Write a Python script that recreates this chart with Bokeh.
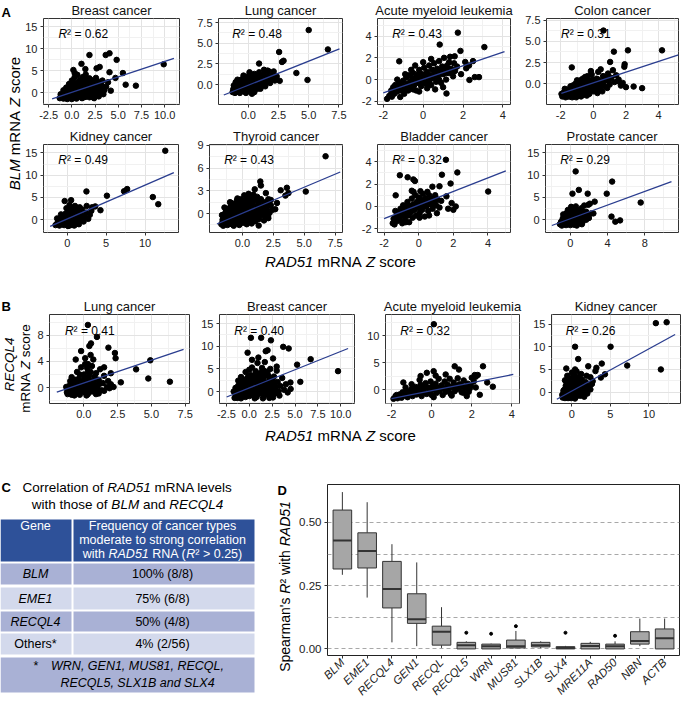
import math
from bokeh.plotting import figure
from bokeh.models import Range1d, FixedTicker
from bokeh.layouts import row, column
from bokeh.embed import file_html
from bokeh.resources import INLINE
from bokeh.core.properties import value

# ======================= DATA =======================
# ---- Panel A: BLM vs RAD51 ----
a_titles = ["Breast cancer", "Lung cancer", "Acute myeloid leukemia", "Colon cancer",
            "Kidney cancer", "Thyroid cancer", "Bladder cancer", "Prostate cancer"]
a_r2 = ["0.62", "0.48", "0.43", "0.31", "0.49", "0.43", "0.32", "0.29"]

a_breast = [(1.9, 8.6), (3.65, 8.6), (4.06, 9.0), (4.83, 7.5), (1.04, 6.6), (9.9, 6.5), (5.8, 1.86), (6.9, 1.64),
            (5.5, 4.5), (2.67, 5.57), (3.0, 5.9), (0.17, 5.2), (0.31, 4.5), (1.46, 5.4), (4.06, 4.7), (4.7, 3.4),
            (-1.3, -1.2), (-1.1, -0.8), (-1.2, -0.3), (-0.9, -1.3), (-0.8, -0.6), (-0.7, 0.1), (-0.6, -1.1), (-0.5, -0.4),
            (-0.4, 0.5), (-0.3, -1.2), (-0.2, -0.2), (-0.1, 0.9), (0.0, -0.9), (0.1, 0.2), (0.2, 1.4), (0.3, -1.1),
            (0.4, -0.3), (0.5, 0.7), (0.6, 1.9), (0.7, -0.8), (0.8, 0.1), (0.9, 1.1), (1.0, 2.3), (1.1, -0.6),
            (1.2, 0.4), (1.3, 1.5), (1.4, 2.8), (1.5, -0.9), (1.6, 0.0), (1.7, 0.9), (1.8, 2.0), (1.9, 3.3),
            (2.0, -0.4), (2.1, 0.6), (2.2, 1.5), (2.3, 2.6), (2.5, -0.7), (2.6, 0.3), (2.7, 1.2), (2.8, 2.2),
            (3.0, 0.0), (3.1, 0.9), (3.2, 1.8), (3.4, -0.3), (3.5, 0.6), (3.7, 1.4), (3.9, 2.4), (-0.6, 1.2),
            (-0.3, 2.0), (0.0, 2.8), (0.3, 3.5), (0.6, 4.1), (0.9, 3.0), (1.2, 3.6), (1.5, 4.2), (0.4, 2.3),
            (-0.9, 0.6), (1.1, -1.2), (1.9, -1.0), (2.4, -1.2), (0.0, -1.4), (-0.5, -1.4), (2.9, -0.8), (3.3, 2.8),
            (2.6, 3.4), (4.2, 0.5), (0.2, 0.4), (0.7, 0.6), (1.2, 1.0), (-0.2, 1.6), (0.5, -1.3)]
a_breast_core = [(-1.2, -0.9), (-1.0, -0.4), (-0.9, 0.0), (-0.7, -0.4), (-0.6, -0.1), (-0.4, -0.8), (-0.35, 0.1),
                 (-0.2, -0.6), (-0.1, 0.4), (0.0, -0.4), (0.1, 0.8), (0.15, -0.3), (0.25, 0.0), (0.35, -0.7), (0.45, 0.3),
                 (0.55, -0.4), (0.65, 1.2), (0.75, 0.1), (0.85, -0.4), (0.95, 0.6), (1.05, 0.0), (1.15, 1.3), (1.25, -0.3),
                 (1.35, 0.6), (1.45, 1.8), (1.55, 0.3), (1.65, -0.5), (1.75, 1.3), (1.85, 0.4), (1.95, -0.2), (2.05, 1.0),
                 (2.15, 2.0), (2.25, 0.0), (2.35, 1.1), (2.45, 0.4), (2.55, 1.9), (2.7, 0.7), (2.9, 1.6), (3.0, 2.5),
                 (-0.5, 0.9), (-0.2, 1.3), (0.3, 1.9), (0.8, 2.6), (1.3, 2.3), (1.6, 3.0), (2.1, 2.9), (-0.8, -1.0),
                 (0.6, -1.0), (1.3, -1.0), (2.1, -0.9)]
a_lung = [(5.0, 6.6), (6.59, 4.26), (2.55, 3.95), (2.79, 2.74), (2.92, 2.89), (3.98, 1.41), (4.9, 0.57), (2.6, 0.46),
          (0.89, 2.55), (1.6, 1.7), (2.1, 1.6), (1.3, 1.8), (2.35, 1.0),
          (-1.3, -0.9), (-1.2, -0.4), (-1.1, -1.0), (-1.0, -0.2), (-0.9, -0.7), (-0.8, 0.3), (-0.7, -1.0), (-0.6, -0.4),
          (-0.5, 0.2), (-0.4, 0.8), (-0.3, -0.8), (-0.2, -0.2), (-0.1, 0.4), (0.0, 1.0), (0.1, -0.6), (0.2, 0.0),
          (0.3, 0.6), (0.4, 1.2), (0.5, -0.9), (0.6, -0.3), (0.7, 0.3), (0.8, 0.9), (0.9, 1.5), (1.0, -0.5),
          (1.1, 0.1), (1.2, 0.7), (1.3, 1.2), (1.4, -0.2), (1.5, 0.4), (1.6, 1.0), (1.8, 0.2), (1.9, 0.8),
          (2.0, 1.3), (2.2, 0.5), (-0.9, 0.6), (-0.4, 1.1), (0.1, 1.5), (-1.0, -0.6), (-0.5, -0.6), (0.0, -0.3),
          (0.4, 0.2), (0.8, -0.1), (1.2, 0.3), (-0.7, -0.2), (0.2, 0.6), (0.6, 0.9), (-0.2, -1.0), (0.3, -1.1),
          (-1.2, -0.1), (1.7, 1.6)]
a_lung_core = [(-1.25, -0.6), (-1.15, -0.2), (-1.05, -0.8), (-0.95, 0.0), (-0.85, -0.4), (-0.75, 0.5), (-0.65, -0.7),
               (-0.55, -0.1), (-0.45, 0.4), (-0.35, -0.5), (-0.25, 0.1), (-0.15, 0.7), (-0.05, -0.8), (0.05, 0.1),
               (0.15, 0.4), (0.25, -0.4), (0.35, 0.9), (0.45, -0.7), (0.55, 0.0), (0.65, 0.5), (0.75, -0.5), (0.85, 0.2),
               (0.95, 0.6), (1.05, -0.1), (1.15, 0.4), (1.25, 0.9), (1.35, 0.1), (1.45, 0.7), (-0.6, 0.6), (0.1, 1.2),
               (0.5, 1.3), (1.0, 1.1), (-1.05, 0.3), (0.3, -0.7)]
a_aml = [(1.74, 4.32), (3.07, 2.99), (0.83, 3.22), (-1.2, 1.68), (1.87, 2.64), (1.58, 2.14), (2.11, 1.62), (2.32, -0.03),
         (2.59, 0.23), (2.8, 0.23), (2.16, 1.04), (1.17, -1.28), (-1.81, -1.77), (-1.57, -1.57), (2.5, 1.7), (2.3, 1.3),
         (1.3, 1.6),
         (-1.7, -1.5), (-1.6, -1.0), (-1.5, -0.7), (-1.45, -1.3), (-1.4, -0.5), (-1.3, -1.1), (-1.25, -0.8), (-1.2, -0.3),
         (-1.1, -1.0), (-1.05, -0.6), (-1.0, -0.1), (-0.95, -1.3), (-0.9, -0.7), (-0.85, 0.2), (-0.8, -0.4), (-0.75, -1.0),
         (-0.7, 0.4), (-0.65, -0.2), (-0.6, -0.7), (-0.55, 0.1), (-0.5, 0.6), (-0.45, -0.5), (-0.4, 0.0), (-0.35, -1.0),
         (-0.3, 0.4), (-0.25, -0.3), (-0.2, 0.9), (-0.15, 0.2), (-0.1, -0.6), (-0.05, 0.5), (0.0, -0.2), (0.05, 1.1),
         (0.1, 0.3), (0.15, -0.4), (0.2, 0.7), (0.25, 0.0), (0.3, 1.3), (0.35, 0.4), (0.4, -0.5), (0.45, 0.9),
         (0.5, 0.2), (0.55, 1.5), (0.6, 0.6), (0.65, -0.2), (0.7, 1.0), (0.75, 0.3), (0.8, 1.7), (0.85, 0.7),
         (0.9, -0.3), (0.95, 1.2), (1.0, 0.5), (1.05, 2.0), (1.1, 0.9), (1.15, 0.0), (1.2, 1.3), (1.3, 0.6),
         (1.35, 2.1), (1.4, 1.0), (1.5, 0.3), (1.55, 1.5), (1.6, 0.8), (1.7, 1.2), (-1.3, 0.0), (-0.6, 0.9),
         (0.0, 1.6), (0.4, 1.9), (-0.2, -1.1), (0.6, -0.9), (0.2, -0.8), (-0.9, 0.5), (-1.15, -1.6), (1.9, 0.5),
         (1.0, -0.7), (-0.4, 1.3)]
a_aml_core = [(-1.6, -1.3), (-1.35, -0.9), (-1.1, -0.4), (-0.85, -0.9), (-0.6, -0.3), (-0.35, 0.2), (-0.1, 0.0),
              (0.15, 0.5), (0.4, 0.1), (0.65, 0.5), (0.9, 0.8), (1.15, 0.6), (1.45, 0.6), (-0.5, -0.9), (0.3, -0.2),
              (0.8, 0.0), (1.25, 1.0), (-0.2, 0.6)]
a_colon = [(0.62, 6.28), (4.21, 3.94), (2.12, 3.94), (1.26, 3.79), (-1.32, 1.93), (1.03, 2.57), (1.92, 2.3), (1.9, 2.0),
           (2.47, -0.33), (2.99, -0.52), (1.69, -0.22), (2.0, -0.4), (1.5, 0.3), (1.8, 0.1),
           (-1.9, -1.5), (-1.8, -1.0), (-1.7, -1.6), (-1.6, -0.7), (-1.5, -1.2), (-1.4, -0.3), (-1.3, -1.6), (-1.2, -0.9),
           (-1.1, 0.0), (-1.0, -1.3), (-0.9, -0.5), (-0.8, 0.4), (-0.7, -1.0), (-0.6, -0.1), (-0.5, 0.8), (-0.4, -1.4),
           (-0.3, -0.6), (-0.2, 0.3), (-0.1, 1.1), (0.0, -0.9), (0.1, -0.1), (0.2, 0.6), (0.3, 1.4), (0.4, -0.6),
           (0.5, 0.2), (0.6, 0.9), (0.7, -0.3), (0.8, 0.5), (0.9, 1.2), (1.0, -0.1), (1.1, 0.7), (1.2, 1.6),
           (1.3, 0.2), (1.4, 1.0), (-1.75, -0.6), (-1.45, -0.8), (-1.15, -0.4), (-0.85, -1.1), (-0.55, -0.7), (-0.25, -1.2),
           (0.05, -0.5), (0.35, 0.1), (0.65, 0.4), (-0.95, 0.3), (-0.65, 0.6), (-0.35, 0.9), (-0.05, 0.5), (0.25, -1.1),
           (0.55, -0.9), (-1.55, -1.5), (-1.25, -0.2), (-0.75, -1.5), (0.85, -0.5), (1.55, 0.5), (-0.15, 1.5), (0.45, 1.7),
           (-1.95, -1.2), (-1.05, -1.6)]
a_colon_core = [(-1.85, -1.3), (-1.65, -1.2), (-1.55, -0.9), (-1.35, -1.0), (-1.25, -1.3), (-1.15, -0.8), (-1.05, -0.3),
                (-0.95, -0.9), (-0.85, -0.2), (-0.75, -0.6), (-0.65, 0.2), (-0.55, -0.3), (-0.45, -0.9), (-0.35, 0.3),
                (-0.25, -0.3), (-0.15, -0.8), (-0.05, 0.1), (0.15, -0.5), (0.3, 0.5), (0.45, -0.2), (0.6, 0.1), (0.75, 0.8),
                (-1.45, -1.5), (-0.6, -1.3), (0.2, 0.2), (-0.4, 0.5), (-1.0, 0.4), (0.95, 0.3)]
a_kidney = [(12.6, 15.5), (11.0, 5.1), (11.7, 3.5), (7.3, 6.4), (7.7, 6.9), (5.1, 5.4), (2.47, 6.36), (4.27, 2.14),
            (-0.33, 4.2), (0.5, 4.4), (3.6, 3.0), (3.2, 2.8), (2.5, 3.1), (1.6, 2.8),
            (-1.5, -1.2), (-1.2, -0.5), (-1.0, -1.3), (-0.9, 0.2), (-0.7, -0.8), (-0.6, 0.8), (-0.4, -1.2), (-0.3, -0.2),
            (-0.2, 1.4), (0.0, -0.8), (0.1, 0.4), (0.2, 2.0), (0.3, -1.3), (0.4, -0.3), (0.5, 0.9), (0.6, 2.5),
            (0.7, -0.9), (0.8, 0.2), (0.9, 1.4), (1.0, 3.1), (1.1, -0.5), (1.2, 0.7), (1.3, 2.0), (1.5, -1.0),
            (1.6, 0.1), (1.7, 1.1), (1.9, 2.3), (2.1, -0.4), (2.2, 0.6), (2.4, 1.6), (2.7, 0.2), (2.9, 1.1),
            (3.1, 2.0), (-1.3, 0.3), (-0.8, 1.2), (-0.1, 2.6), (0.3, 3.3), (0.1, -1.4), (0.7, 1.0), (0.3, 0.0),
            (-0.5, 0.1), (1.4, -0.2), (0.9, -1.3)]
a_kidney_core = [(-1.3, -0.9), (-1.1, -0.2), (-0.95, -0.7), (-0.8, -0.3), (-0.6, -0.4), (-0.5, -1.0), (-0.4, 0.4),
                 (-0.2, -0.6), (-0.15, 0.7), (0.0, 0.1), (0.05, -0.3), (0.2, 0.9), (0.25, -0.7), (0.4, 0.5), (0.5, -0.5),
                 (0.6, 0.2), (0.75, 1.6), (0.8, -0.4), (1.0, 0.6), (1.05, 1.9), (1.2, -0.2), (1.35, 1.2), (1.5, 0.5),
                 (-0.3, 1.0), (0.35, 1.5), (0.55, -1.1), (-0.7, 0.4)]
a_thyroid = [(6.73, 7.55), (5.13, 2.9), (1.45, 4.23), (3.6, 3.4), (3.73, 2.7), (3.48, 2.37), (2.66, 0.58), (1.32, -1.58),
             (2.08, -0.33), (3.1, 3.07), (1.5, 3.7), (1.0, 3.2), (2.3, 1.8), (2.8, 1.4), (1.9, 2.7), (2.1, -0.6),
             (-1.7, -1.4), (-1.6, -0.8), (-1.55, -1.6), (-1.5, -0.3), (-1.4, -1.1), (-1.35, 0.2), (-1.3, -0.6), (-1.2, -1.5),
             (-1.15, 0.6), (-1.1, -0.1), (-1.0, -0.9), (-0.95, 1.0), (-0.9, 0.3), (-0.85, -1.4), (-0.8, -0.4), (-0.7, 0.7),
             (-0.65, -1.0), (-0.6, 1.3), (-0.55, 0.0), (-0.5, -0.7), (-0.45, 1.7), (-0.4, 0.5), (-0.35, -1.3), (-0.3, -0.2),
             (-0.25, 1.0), (-0.2, -0.9), (-0.15, 1.9), (-0.1, 0.3), (-0.05, -0.5), (0.0, 1.3), (0.05, -1.2), (0.1, 0.7),
             (0.15, -0.1), (0.2, 1.6), (0.25, -0.8), (0.3, 0.4), (0.35, 2.0), (0.4, -0.4), (0.45, 1.0), (0.5, -1.1),
             (0.55, 0.1), (0.6, 1.5), (0.65, -0.6), (0.7, 0.7), (0.75, 2.1), (0.8, -0.2), (0.85, 1.2), (0.9, -0.9),
             (0.95, 0.4), (1.0, 1.8), (1.1, -0.4), (1.15, 0.9), (1.2, 2.2), (1.25, 0.1), (1.3, 1.4), (1.35, -0.7),
             (1.4, 0.6), (1.5, 1.9), (1.55, -0.2), (1.6, 1.0), (1.7, 0.3), (1.8, 1.5), (1.9, -0.4), (2.0, 0.7),
             (2.1, 1.9), (2.2, 0.1), (2.3, 1.1), (2.45, 0.5), (-1.45, 0.8), (-1.0, 1.5), (-0.7, -1.6), (-0.3, 0.8),
             (0.15, 2.4), (0.5, 2.6), (0.9, 2.5), (-1.25, -0.9), (-0.75, 0.1), (-0.25, -1.5), (0.35, -1.4), (0.75, -1.3),
             (1.05, -1.0), (-0.55, 0.6), (-0.05, 0.0), (0.45, 0.5), (0.95, -0.1), (1.45, 0.2), (-1.65, -0.2), (1.75, -0.9),
             (0.25, 1.2), (-0.45, -0.3)]
a_thyroid_core = [(-1.6, -1.1), (-1.5, -0.6), (-1.4, 0.0), (-1.3, -1.3), (-1.2, 0.3), (-1.1, -0.7), (-1.0, 0.2),
                  (-0.9, -0.4), (-0.8, 0.9), (-0.7, -0.2), (-0.6, -0.9), (-0.5, 0.3), (-0.4, -0.6), (-0.3, 1.2),
                  (-0.2, 0.0), (-0.1, -1.1), (0.0, 0.5), (0.1, -0.4), (0.2, 0.9), (0.3, -1.0), (0.4, 0.2), (0.5, 1.2),
                  (0.6, -0.2), (0.7, 0.3), (0.8, 1.0), (0.9, 0.0), (1.0, 0.9), (1.1, 0.3), (1.2, -0.3), (1.3, 0.8),
                  (1.4, 1.2), (1.5, 0.5), (1.7, 0.9), (1.9, 0.2), (2.0, 1.3), (-0.9, 1.4), (-0.4, 2.0), (0.3, 1.9),
                  (1.1, 2.0), (-1.2, -0.3)]
a_bladder = [(1.57, 4.16), (2.23, 3.03), (1.34, 2.83), (1.84, 2.04), (4.01, 1.33), (-1.09, 2.78), (-0.64, 2.6), (-0.31, 2.41),
             (-0.22, 2.27), (-1.33, 0.99), (0.79, 1.76), (2.14, 0.0), (0.1, 1.36), (-0.4, 1.4), (-0.3, 1.3), (1.2, 1.8),
             (1.6, 0.9), (1.9, 0.3), (0.5, 1.3), (2.0, -0.3), (1.7, -0.2),
             (-1.5, -1.5), (-1.45, -1.1), (-1.4, -1.6), (-1.3, -0.9), (-1.25, -1.3), (-1.2, -0.5), (-1.1, -1.2), (-1.05, -0.2),
             (-1.0, -0.8), (-0.95, -1.5), (-0.9, 0.1), (-0.85, -0.5), (-0.8, -1.1), (-0.7, -0.2), (-0.65, 0.4), (-0.6, -0.8),
             (-0.55, -1.4), (-0.5, 0.0), (-0.45, -0.5), (-0.4, 0.7), (-0.35, -1.0), (-0.3, 0.2), (-0.25, -0.3), (-0.2, 1.0),
             (-0.15, -0.8), (-0.1, 0.4), (-0.05, -0.1), (0.0, 0.8), (0.05, -0.6), (0.1, 0.1), (0.15, 0.6), (0.2, -0.3),
             (0.25, 1.1), (0.3, 0.3), (0.35, -0.9), (0.4, 0.7), (0.45, 0.0), (0.5, 0.5), (0.55, -0.4), (0.6, 1.0),
             (0.7, 0.2), (0.75, 0.7), (0.8, -0.2), (0.9, 0.4), (0.95, 1.0), (1.0, 0.1), (1.1, 0.6), (1.2, -0.1),
             (1.3, 0.5), (-0.75, -1.4), (0.05, -1.0), (-1.35, -0.4), (0.6, -0.8), (1.05, -0.6)]
a_bladder_core = [(-1.35, -1.2), (-1.15, -0.8), (-0.9, -0.4), (-0.75, -0.8), (-0.5, -0.5), (-0.3, -0.3), (-0.1, 0.0),
                  (0.1, -0.3), (0.3, 0.0), (0.5, 0.2), (0.7, 0.5), (0.85, 0.1), (1.0, 0.7), (-0.6, 0.1), (0.2, 0.4)]
a_prostate = [(0.58, 10.86), (4.49, 8.57), (7.55, 3.86), (3.91, 5.86), (0.92, 6.7), (0.24, 5.86), (1.87, 5.86), (2.62, 4.07),
              (2.48, 1.43), (4.42, 0.71), (4.83, -0.43), (5.34, -0.14), (1.94, 3.36), (1.5, 3.2), (0.6, 3.0), (2.1, 3.6),
              (0.1, 2.9), (1.2, 2.6), (1.7, 1.8),
              (-1.1, -1.0), (-0.95, -0.4), (-0.9, -1.3), (-0.8, 0.3), (-0.7, -0.8), (-0.6, 0.9), (-0.5, -0.2), (-0.45, -1.2),
              (-0.4, 1.5), (-0.3, 0.4), (-0.2, -0.7), (-0.1, 1.0), (0.0, -1.2), (0.05, 0.0), (0.1, 2.0), (0.2, -0.5),
              (0.25, 0.7), (0.3, 1.6), (0.4, -1.1), (0.45, 0.2), (0.5, 1.2), (0.6, -0.4), (0.65, 0.8), (0.7, 2.2),
              (0.8, -0.9), (0.85, 0.3), (0.9, 1.5), (1.0, -0.3), (1.1, 0.8), (1.2, 1.9), (1.3, -0.6), (1.4, 0.4),
              (1.5, 1.2), (1.7, 0.0), (1.8, 0.9), (2.0, 0.4), (2.2, 1.4), (-0.75, 1.2), (-0.25, 2.2), (0.4, 2.6),
              (-0.6, -0.5), (0.15, -0.9), (0.7, -1.3), (1.25, -1.0)]
a_prostate_core = [(-1.0, -0.6), (-0.85, -0.9), (-0.75, -0.2), (-0.65, 0.4), (-0.55, -1.0), (-0.45, 0.2), (-0.35, -0.5),
                   (-0.25, 0.8), (-0.15, -0.3), (-0.05, -0.8), (0.0, 0.4), (0.1, -0.3), (0.15, 1.1), (0.3, -0.7),
                   (0.35, 0.1), (0.5, -0.1), (0.55, 0.6), (0.7, -0.6), (0.75, 0.2), (0.9, -0.2), (0.95, 0.9), (1.05, 0.2),
                   (1.2, 0.5), (1.35, 0.9), (-0.35, 1.3), (0.3, 1.0), (1.6, 0.6), (-0.1, 0.1)]
a_points = [a_breast + a_breast_core, a_lung + a_lung_core, a_aml + a_aml_core, a_colon + a_colon_core,
            a_kidney + a_kidney_core, a_thyroid + a_thyroid_core, a_bladder + a_bladder_core, a_prostate + a_prostate_core]
a_lines = [[(-2.12, -1.36), (11.0, 7.86)], [(-2.03, -1.25), (7.55, 4.33)], [(-2.0, -1.22), (4.08, 2.58)],
           [(-1.96, -1.15), (5.22, 3.42)], [(-2.2, -1.5), (13.7, 10.6)], [(-2.06, -1.37), (7.92, 5.48)],
           [(-2.0, -1.08), (5.03, 3.17)], [(-1.97, -1.29), (10.85, 8.57)]]
a_xranges = [(-3.05, 11.6), (-2.47, 7.8), (-2.29, 4.38), (-2.87, 5.22), (-3.05, 14.3), (-2.66, 8.1), (-2.38, 5.3), (-2.65, 11.6)]
a_yranges = [(-2.64, 16.9), (-2.4, 8.0), (-2.29, 5.62), (-2.45, 7.7), (-2.86, 16.9), (-2.49, 9.1), (-2.32, 5.52), (-2.86, 16.9)]
a_xticks = [[-2.5, 0, 2.5, 5, 7.5, 10], [0, 2.5, 5, 7.5], [-2, 0, 2, 4], [-2, 0, 2, 4],
            [0, 5, 10], [0, 2.5, 5, 7.5], [-2, 0, 2, 4], [0, 4, 8]]
a_xlabels = [["-2.5", "0.0", "2.5", "5.0", "7.5", "10.0"], ["0.0", "2.5", "5.0", "7.5"], ["-2", "0", "2", "4"], ["-2", "0", "2", "4"],
             ["0", "5", "10"], ["0.0", "2.5", "5.0", "7.5"], ["-2", "0", "2", "4"], ["0", "4", "8"]]
a_yticks = [[0, 5, 10, 15], [0, 2.5, 5, 7.5], [-2, 0, 2, 4], [0, 2.5, 5, 7.5],
            [0, 5, 10, 15], [0, 3, 6, 9], [-2, 0, 2, 4], [0, 5, 10, 15]]
a_ylabels = [["0", "5", "10", "15"], ["0.0", "2.5", "5.0", "7.5"], ["-2", "0", "2", "4"], ["0.0", "2.5", "5.0", "7.5"],
             ["0", "5", "10", "15"], ["0", "3", "6", "9"], ["-2", "0", "2", "4"], ["0", "5", "10", "15"]]

# ---- Panel B: RECQL4 vs RAD51 ----
b_titles = ["Lung cancer", "Breast cancer", "Acute myeloid leukemia", "Kidney cancer"]
b_r2 = ["0.41", "0.40", "0.32", "0.26"]
b_lung = [(0.3, 9.6), (0.97, 7.76), (0.53, 6.77), (0.41, 6.37), (1.82, 6.12), (2.35, 4.5), (2.3, 5.3), (3.87, 2.79),
          (4.92, 4.18), (4.77, 1.39), (6.37, 0.9), (2.74, 0.8), (-0.2, 5.6), (0.5, 5.0), (0.1, 4.5), (0.7, 4.3),
          (1.5, 3.1), (2.0, 2.2), (2.2, 0.1), (1.9, -0.1), (1.5, -0.5), (-0.6, 4.3), (0.3, 3.6),
          (-1.2, -1.0), (-1.1, -0.3), (-1.0, 0.5), (-0.9, -1.1), (-0.8, -0.2), (-0.7, 0.8), (-0.6, -0.8), (-0.5, 0.2),
          (-0.4, 1.3), (-0.3, -1.1), (-0.2, -0.1), (-0.1, 0.9), (0.0, 2.0), (0.05, -0.7), (0.1, 0.4), (0.2, 1.5),
          (0.25, 3.0), (0.3, -1.0), (0.4, 0.0), (0.45, 1.0), (0.5, 2.4), (0.6, -0.6), (0.7, 0.6), (0.8, 1.7),
          (0.9, -1.0), (1.0, 0.2), (1.1, 1.2), (1.2, 2.8), (1.3, -0.4), (1.4, 0.7), (1.5, 1.8), (1.7, 0.1),
          (1.8, 1.0), (2.0, 0.5), (-0.9, 1.6), (-0.5, 2.4), (0.1, 3.6), (0.6, 3.3), (-0.7, -1.2), (0.2, -1.2),
          (1.1, -0.9), (-1.3, 0.1), (0.9, 2.2), (-0.2, 3.1)]
b_lung_core = [(-1.25, -0.7), (-1.15, 0.1), (-1.05, -0.5), (-0.95, 0.2), (-0.85, -0.7), (-0.75, 0.4), (-0.65, -0.3),
               (-0.55, 0.7), (-0.45, -0.6), (-0.35, 0.4), (-0.25, -0.5), (-0.15, 0.4), (-0.05, -0.3), (0.05, 0.9),
               (0.15, -0.2), (0.25, 0.6), (0.35, -0.6), (0.45, 0.5), (0.55, -0.2), (0.65, 1.0), (0.75, -0.2),
               (0.85, 0.4), (0.95, 1.2), (1.05, -0.4), (1.2, 0.6), (-0.6, 1.2), (0.0, 1.4), (0.4, 1.8), (-0.3, 2.0),
               (0.3, 2.5), (-1.0, 1.0)]
b_breast = [(0.18, 11.86), (1.3, 11.86), (2.37, 11.3), (3.71, 9.86), (4.31, 9.5), (1.8, 8.9), (2.0, 9.1), (-0.18, 8.57),
            (5.23, 5.93), (6.71, 7.14), (5.58, 2.14), (9.7, 4.5), (4.52, 0.57), (1.0, 7.5), (2.6, 7.3), (0.3, 7.0),
            (-1.6, -1.4), (-1.5, -0.6), (-1.4, 0.4), (-1.3, -1.2), (-1.2, 1.3), (-1.1, -0.2), (-1.0, 0.8), (-0.9, -1.5),
            (-0.8, 2.0), (-0.7, -0.5), (-0.6, 0.5), (-0.5, 1.6), (-0.4, -1.2), (-0.3, 2.8), (-0.2, 0.0), (-0.1, 1.1),
            (0.0, -1.0), (0.1, 2.2), (0.2, 3.6), (0.3, 0.3), (0.4, -0.7), (0.5, 1.4), (0.6, 2.9), (0.7, 4.5),
            (0.8, -1.2), (0.9, 0.5), (1.0, 1.8), (1.1, 3.4), (1.2, -0.4), (1.3, 0.9), (1.4, 5.2), (1.5, 2.4),
            (1.6, -1.0), (1.7, 0.2), (1.8, 1.4), (1.9, 3.9), (2.0, -0.5), (2.1, 0.8), (2.2, 2.6), (2.3, 5.0),
            (2.4, -0.9), (2.5, 1.6), (2.6, 0.2), (2.7, 3.3), (2.8, -0.4), (2.9, 1.0), (3.1, 2.1), (3.2, 0.0),
            (3.4, 1.2), (3.6, 3.0), (3.8, 0.4), (4.0, 1.6), (-0.9, 3.2), (-0.4, 4.3), (0.3, 5.3), (0.9, 6.3),
            (1.7, 6.5), (2.0, 4.4), (3.0, 4.6), (-1.2, 2.4), (0.0, 4.8), (1.3, 4.2), (2.6, -1.3), (3.3, -0.9),
            (-0.5, -0.1), (0.45, 0.2), (1.35, -0.2), (0.2, 1.4), (-1.0, -1.0), (0.6, -1.5), (1.5, -1.5), (2.2, -1.4),
            (4.5, 2.0), (4.2, -0.2), (-1.7, 0.0), (3.0, 5.5)]
b_breast_core = [(-1.5, 0.8), (-1.4, -1.0), (-1.3, 0.0), (-1.2, -0.5), (-1.1, 0.5), (-1.0, 1.6), (-0.9, 0.2), (-0.8, -0.8),
                 (-0.7, 1.2), (-0.6, -0.3), (-0.5, 0.6), (-0.4, 2.2), (-0.3, -0.5), (-0.2, 1.6), (-0.1, 0.3), (0.0, 2.6),
                 (0.1, -0.4), (0.2, 0.6), (0.3, 2.0), (0.4, 1.0), (0.5, 3.4), (0.5, -0.2), (0.6, 1.9), (0.7, 0.0),
                 (0.8, 2.6), (0.9, 1.2), (1.0, -0.5), (1.1, 0.6), (1.2, 2.2), (1.3, 3.4), (1.4, 0.1), (1.5, 1.0),
                 (1.6, 3.2), (1.7, 1.8), (1.8, -0.3), (1.9, 0.7), (2.0, 2.0), (2.1, 3.5), (2.2, -0.2), (2.3, 1.2),
                 (2.4, 0.3), (2.5, 2.7), (2.7, 0.9), (2.8, 2.0), (3.0, -0.2), (-0.1, 3.5), (0.8, 4.0), (1.6, 4.6),
                 (-0.7, 2.6), (-1.3, -1.4)]
b_aml = [(0.11, 12.1), (1.15, 4.31), (1.36, 3.71), (-0.55, 2.51), (-0.24, 3.11), (0.1, 3.41), (-1.41, 1.32), (2.56, 4.31),
         (2.15, 2.7), (2.77, 1.32), (3.05, 0.54), (2.4, -0.96), (1.75, -1.2), (2.2, 2.4), (1.9, 0.2), (1.6, -0.6),
         (-1.9, -1.7), (-1.8, -1.2), (-1.7, -1.6), (-1.6, -0.9), (-1.5, -1.5), (-1.45, -0.5), (-1.35, -1.1), (-1.25, -0.2),
         (-1.2, -1.4), (-1.1, -0.7), (-1.0, 0.1), (-0.95, -1.2), (-0.9, -0.3), (-0.8, 0.5), (-0.75, -0.9), (-0.7, 0.0),
         (-0.6, -0.6), (-0.55, 0.9), (-0.5, -1.2), (-0.45, 0.3), (-0.4, -0.3), (-0.3, 1.2), (-0.25, -0.8), (-0.2, 0.4),
         (-0.1, -0.2), (-0.05, 1.5), (0.0, -1.0), (0.05, 0.6), (0.1, 0.0), (0.2, 1.1), (0.25, -0.6), (0.3, 0.4),
         (0.35, 2.0), (0.4, -0.2), (0.5, 0.8), (0.55, -1.0), (0.6, 0.2), (0.65, 1.5), (0.7, -0.4), (0.8, 0.9),
         (0.85, 0.0), (0.9, 2.0), (0.95, -0.8), (1.0, 0.5), (1.1, 1.3), (1.15, -0.3), (1.2, 0.7), (1.3, 2.1),
         (1.35, 0.1), (1.4, 1.0), (1.5, -0.5), (1.55, 0.6), (1.6, 1.7), (1.7, 0.3), (1.8, 1.1), (1.85, -0.4),
         (1.95, 0.7), (2.0, 2.2), (2.1, 1.5), (2.2, 0.4), (2.3, 2.7), (-1.0, 1.0), (-0.6, 1.8), (0.2, 2.6),
         (0.7, 2.8), (-1.3, 0.4), (0.1, -1.4), (1.0, -1.1)]
b_aml_core = [(-1.75, -1.0), (-1.3, -0.8), (-0.9, -0.8), (-0.5, -0.2), (-0.1, 0.3), (0.3, -0.1), (0.75, 0.3), (1.2, 0.2),
              (1.6, 0.5), (-0.35, 0.7)]
b_kidney = [(10.9, 15.2), (12.3, 15.4), (0.41, 10.0), (5.02, 10.0), (0.82, 7.29), (11.55, 5.0), (7.18, 5.86), (3.88, 6.29),
            (3.18, 5.36), (2.12, 5.71), (4.29, 3.93), (3.76, 3.21), (3.06, 4.64), (-0.73, 5.21), (0.41, 5.0), (0.6, 4.6),
            (1.2, 4.0), (2.4, 3.3), (2.7, 2.4), (1.9, 3.6), (2.2, 1.0),
            (-1.2, -1.2), (-1.1, -0.4), (-1.0, 0.5), (-0.9, -1.3), (-0.8, 1.4), (-0.7, -0.6), (-0.6, 0.3), (-0.5, 2.2),
            (-0.45, -1.1), (-0.4, 1.0), (-0.3, -0.2), (-0.2, 3.0), (-0.1, -1.3), (0.0, 0.6), (0.1, 1.8), (0.15, -0.5),
            (0.2, 3.8), (0.3, 0.2), (0.4, 2.6), (0.5, -1.0), (0.6, 1.2), (0.7, -0.3), (0.8, 3.4), (0.9, 0.6),
            (1.0, 2.0), (1.1, -0.8), (1.2, 1.1), (1.3, 2.8), (1.4, 0.0), (1.5, 1.6), (1.7, 0.5), (1.8, 2.2),
            (2.0, -0.3), (2.1, 1.3), (2.4, 0.6), (2.6, 1.8), (-0.9, 2.6), (-0.6, 3.6), (0.0, 4.3), (0.4, -1.4),
            (1.6, -1.0), (-0.3, 1.6), (0.6, 0.0), (1.2, -0.3)]
b_kidney_core = [(-1.25, -0.6), (-1.1, 0.3), (-0.95, -0.8), (-0.85, 0.7), (-0.75, -0.2), (-0.65, 1.0), (-0.55, -0.7),
                 (-0.45, 0.4), (-0.35, 1.6), (-0.25, -0.7), (-0.15, 0.3), (-0.05, 1.2), (0.05, -0.8), (0.1, 2.4),
                 (0.2, 0.0), (0.3, 1.3), (0.35, -0.6), (0.45, 0.7), (0.55, 2.0), (0.65, -0.8), (0.75, 0.5), (0.85, 1.5),
                 (0.95, -0.3), (1.05, 0.9), (1.15, 2.4), (1.3, 0.4), (1.45, 1.1), (1.6, -0.3), (-0.5, -1.3), (0.8, 2.8),
                 (-0.7, 2.2), (0.25, 3.1)]
b_points = [b_lung + b_lung_core, b_breast + b_breast_core, b_aml + b_aml_core, b_kidney + b_kidney_core]
b_lines = [[(-2.0, -0.7), (7.38, 5.87)], [(-2.47, -1.21), (10.8, 9.5)], [(-2.0, -1.68), (4.07, 2.81)], [(-1.96, -1.57), (13.4, 12.7)]]
b_xranges = [(-2.54, 7.82), (-3.25, 11.5), (-2.3, 4.38), (-2.65, 14.1)]
b_yranges = [(-2.44, 11.2), (-2.64, 17.0), (-2.57, 13.9), (-2.5, 17.1)]
b_xticks = [[0, 2.5, 5, 7.5], [-2.5, 0, 2.5, 5, 7.5, 10], [-2, 0, 2, 4], [0, 5, 10]]
b_xlabels = [["0.0", "2.5", "5.0", "7.5"], ["-2.5", "0.0", "2.5", "5.0", "7.5", "10.0"], ["-2", "0", "2", "4"], ["0", "5", "10"]]
b_yticks = [[0, 4, 8], [0, 5, 10, 15], [0, 5, 10], [0, 5, 10, 15]]
b_ylabels = [["0", "4", "8"], ["0", "5", "10", "15"], ["0", "5", "10"], ["0", "5", "10", "15"]]

# ---- Panel C: table ----
c_genes = ["BLM", "EME1", "RECQL4", "Others*"]
c_gene_italic = [True, True, True, False]
c_freq = ["100% (8/8)", "75% (6/8)", "50% (4/8)", "4% (2/56)"]
c_foot = ["WRN, GEN1, MUS81, RECQL,", "RECQL5, SLX1B and SLX4"]

# ---- Panel D: box plots of Spearman's R^2 with RAD51 ----
d_genes = ["BLM", "EME1", "RECQL4", "GEN1", "RECQL", "RECQL5", "WRN", "MUS81",
           "SLX1B", "SLX4", "MRE11A", "RAD50", "NBN", "ACTB"]
d_low = [0.293, 0.203, 0.026, 0.011, 0.004, 0.0, 0.0, 0.002, 0.003, 0.0, 0.0, 0.0, 0.011, 0.0]
d_q1 = [0.316, 0.320, 0.162, 0.101, 0.015, 0.0, 0.0, 0.004, 0.008, 0.0, 0.0, 0.0, 0.019, 0.0]
d_med = [0.429, 0.387, 0.237, 0.117, 0.068, 0.015, 0.011, 0.011, 0.015, 0.004, 0.012, 0.011, 0.031, 0.042]
d_q3 = [0.549, 0.459, 0.346, 0.218, 0.090, 0.026, 0.019, 0.035, 0.026, 0.009, 0.022, 0.019, 0.068, 0.079]
d_high = [0.620, 0.580, 0.414, 0.342, 0.165, 0.030, 0.021, 0.071, 0.030, 0.012, 0.028, 0.030, 0.120, 0.120]
d_out_genes = ["RECQL5", "WRN", "MUS81", "SLX4", "RAD50"]
d_out_vals = [0.064, 0.060, 0.090, 0.064, 0.052]
d_yticks = [0.0, 0.25, 0.5]
d_ylabels = ["0.00", "0.25", "0.50"]

# ======================= STYLE / HELPERS =======================
FONT = "Liberation Sans"
LINE_C = "#2A3D8F"
_W = {}
for _chars, _w in [("ijl", 222), ("'", 191), (" ftI./,:;!", 278), ("r()-\u00b2", 333), ("*", 389),
                   ("cksvxyzJ", 500), ("abdeghnopqu0123456789L", 556), ("=+<>", 584),
                   ("FTZ", 611), ("ABEKPSVXY", 667), ("CDHNRUw", 722), ("GOQ", 778),
                   ("mM", 833), ("%", 889), ("W", 944)]:
    for _c in _chars:
        _W[_c] = _w


def tw(s, fs):
    return sum(_W.get(ch, 556) for ch in s) * fs / 1000.0


def minors(t):
    st = t[1] - t[0]
    return [t[0] - st / 2] + [(a + b) / 2 for a, b in zip(t[:-1], t[1:])] + [t[-1] + st / 2]


def blank(w, h):
    f = figure(width=w, height=h, x_range=Range1d(0, w), y_range=Range1d(0, h),
               x_axis_type=None, y_axis_type=None, output_backend="svg",
               toolbar_location=None, min_border=0)
    f.outline_line_color = None
    f.grid.visible = False
    return f


def rich(f, pieces, cx, cy, fs, rotate=False, align="center", color="black", bold=False):
    total = sum(tw(t, fs) for t, _ in pieces)
    cur = -total / 2 if align == "center" else 0
    for t, it in pieces:
        lead = len(t) - len(t.lstrip(" "))
        s = t.strip(" ")
        off = cur + tw(t[:lead], fs)
        if s:
            kw = dict(text=[s], text_font=value(FONT), text_font_size=value(f"{fs}px"),
                      text_font_style="italic" if it else ("bold" if bold else "normal"),
                      text_color=color, text_baseline="middle", text_align="left")
            if rotate:
                f.text(x=[cx], y=[cy + off], angle=math.pi / 2, **kw)
            else:
                f.text(x=[cx + off], y=[cy], **kw)
        cur += tw(t, fs)


def style_axes(p, xt, xl, yt, yl, minor_grid=True):
    p.xaxis.ticker = FixedTicker(ticks=xt, minor_ticks=minors(xt) if minor_grid else [])
    p.yaxis.ticker = FixedTicker(ticks=yt, minor_ticks=minors(yt) if minor_grid else [])
    p.xaxis.major_label_overrides = {t: l for t, l in zip(xt, xl)}
    p.yaxis.major_label_overrides = {t: l for t, l in zip(yt, yl)}
    for ax in p.axis:
        ax.axis_line_color = None
        ax.minor_tick_line_color = None
        ax.major_tick_out = 3
        ax.major_tick_in = 0
        ax.major_tick_line_color = "#333333"
        ax.major_label_standoff = 2
        ax.major_label_text_font = FONT
        ax.major_label_text_font_size = "11px"
        ax.major_label_text_color = "#222222"
    p.outline_line_color = "#333333"
    p.outline_line_width = 1


def scatter_panel(title, pts, line, r2, xr, yr, xt, xl, yt, yl, w, h, L, R, T, B):
    p = figure(width=w, height=h, x_range=Range1d(*xr), y_range=Range1d(*yr),
               output_backend="svg", toolbar_location=None,
               min_border_left=L, min_border_right=R, min_border_top=T, min_border_bottom=B)
    p.title.text = title
    p.title.align = "center"
    p.title.text_font = FONT
    p.title.text_font_size = "13px"
    p.title.text_font_style = "normal"
    p.title.text_color = "#111111"
    p.title.standoff = 1
    style_axes(p, xt, xl, yt, yl)
    for g in (p.xgrid, p.ygrid):
        g.grid_line_color = "#E3E3E3"
        g.minor_grid_line_color = "#F1F1F1"
    p.scatter([q[0] for q in pts], [q[1] for q in pts], size=5.5, color="black")
    p.line([line[0][0], line[1][0]], [line[0][1], line[1][1]], color=LINE_C, line_width=1.3)
    rx = xr[0] + 0.11 * (xr[1] - xr[0])
    ry = yr[0] + 0.82 * (yr[1] - yr[0])
    fs = 12
    p.text(x=[rx], y=[ry], text=["R"], text_font=value(FONT), text_font_size=value(f"{fs}px"),
           text_font_style="italic", text_baseline="middle", text_align="left", text_color="black")
    p.text(x=[rx], y=[ry], text=["\u00b2 = " + r2], x_offset=tw("R", fs), text_font=value(FONT),
           text_font_size=value(f"{fs}px"), text_baseline="middle", text_align="left", text_color="black")
    return p


# ======================= PANEL A =======================
a_geo_top = [(172, 19, 15), (164, 21, 16), (164, 18, 12), (162, 21, 6)]
a_geo_bot = [(172, 20, 16), (164, 12, 16), (164, 18, 12), (162, 23, 6)]
a_figs = []
for i in range(8):
    w, L, R = (a_geo_top if i < 4 else a_geo_bot)[i % 4]
    T, B = (15, 22) if i < 4 else (16, 20)
    a_figs.append(scatter_panel(a_titles[i], a_points[i], a_lines[i], a_r2[i], a_xranges[i], a_yranges[i],
                                a_xticks[i], a_xlabels[i], a_yticks[i], a_ylabels[i], w, 126, L, R, T, B))

a_strip = blank(22, 252)
a_strip.text(x=[1], y=[240], text=["A"], text_font=value(FONT), text_font_size=value("13px"),
             text_font_style="bold", text_baseline="middle", text_align="left")
rich(a_strip, [("BLM", True), (" mRNA ", False), ("Z", True), (" score", False)], 14, 129, 15, rotate=True)

a_xlab = blank(684, 44)
rich(a_xlab, [("RAD51", True), (" mRNA ", False), ("Z", True), (" score", False)], 340, 35, 15)

block_a = row(column(a_strip), column(row(*a_figs[:4]), row(*a_figs[4:])))

# ======================= PANEL B =======================
b_geo = [(164, 15, 9), (166, 21, 10), (166, 20, 11), (154, 19, 4)]
b_figs = []
for i in range(4):
    w, L, R = b_geo[i]
    b_figs.append(scatter_panel(b_titles[i], b_points[i], b_lines[i], b_r2[i], b_xranges[i], b_yranges[i],
                                b_xticks[i], b_xlabels[i], b_yticks[i], b_ylabels[i], w, 126, L, R, 17, 19))
b_strip = blank(34, 126)
b_strip.text(x=[1], y=[116], text=["B"], text_font=value(FONT), text_font_size=value("13px"),
             text_font_style="bold", text_baseline="middle", text_align="left")
rich(b_strip, [("RECQL4", True)], 9, 58, 13.5, rotate=True)
rich(b_strip, [("mRNA ", False), ("Z", True), (" score", False)], 24.5, 54, 13.5, rotate=True)

b_xlab = blank(684, 52)
rich(b_xlab, [("RAD51", True), (" mRNA ", False), ("Z", True), (" score", False)], 340, 39, 15)

block_b = row(column(b_strip), row(*b_figs))

# ======================= PANEL C (table) =======================
CH = 230
c = blank(270, CH)


def Y(top):
    return CH - top


c.text(x=[1], y=[Y(13)], text=["C"], text_font=value(FONT), text_font_size=value("13px"),
       text_font_style="bold", text_baseline="middle", text_align="left")
rich(c, [("Correlation of ", False), ("RAD51", True), (" mRNA levels", False)], 127, Y(13), 13.5)
rich(c, [("with those of ", False), ("BLM", True), (" and ", False), ("RECQL4", True)], 127, Y(30), 13.5)

HEAD = "#2E5199"
DARK = "#A9B1D5"
LIGHT = "#D3D9EC"
col_split = 71
tab_right = 254
row_bands = [(89, 110), (113, 135), (137, 157), (159, 180)]
c.quad(left=[0, col_split + 2], right=[col_split, tab_right], top=[Y(45), Y(45)], bottom=[Y(87), Y(87)],
       fill_color=HEAD, line_color=None)
for k, (t0, t1) in enumerate(row_bands):
    col = DARK if k % 2 == 0 else LIGHT
    c.quad(left=[0, col_split + 2], right=[col_split, tab_right], top=[Y(t0), Y(t0)], bottom=[Y(t1), Y(t1)],
           fill_color=col, line_color=None)
    mid = Y((t0 + t1) / 2)
    rich(c, [(c_genes[k], c_gene_italic[k])], 35, mid, 12.5)
    rich(c, [(c_freq[k], False)], 162, mid, 12.5)
c.quad(left=[0], right=[tab_right], top=[Y(183)], bottom=[Y(218)], fill_color=DARK, line_color=None)

rich(c, [("Gene", False)], 35, Y(51), 12.5, color="white")
rich(c, [("Frequency of cancer types", False)], 162, Y(51), 12.5, color="white")
rich(c, [("moderate to strong correlation", False)], 162, Y(65), 12.5, color="white")
rich(c, [("with ", False), ("RAD51", True), (" RNA (", False), ("R", True), ("\u00b2 > 0.25)", False)],
     162, Y(79), 12.5, color="white")
rich(c, [("*", False)], 33, Y(191), 12.5, align="left")
rich(c, [(c_foot[0], True)], 137, Y(191), 12.5)
rich(c, [(c_foot[1], True)], 137, Y(208), 12.5)

# ======================= PANEL D (box plots) =======================
d_strip = blank(26, CH)
d_strip.text(x=[7], y=[Y(16)], text=["D"], text_font=value(FONT), text_font_size=value("13px"),
             text_font_style="bold", text_baseline="middle", text_align="left")
rich(d_strip, [("Spearman's ", False), ("R", True), ("\u00b2 with ", False), ("RAD51", True)], 14, Y(112), 14, rotate=True)

pos = list(range(1, len(d_genes) + 1))
d = figure(width=388, height=CH, x_range=Range1d(0.4, len(d_genes) + 0.6), y_range=Range1d(-0.026, 0.65),
           output_backend="svg", toolbar_location=None,
           min_border_left=29, min_border_right=5, min_border_top=10, min_border_bottom=44)
style_axes(d, pos, d_genes, d_yticks, d_ylabels)
d.xaxis.ticker = FixedTicker(ticks=pos)
d.yaxis.ticker = FixedTicker(ticks=d_yticks, minor_ticks=[0.125, 0.375])
d.xgrid.grid_line_color = None
d.ygrid.grid_line_color = "#A8A8A8"
d.ygrid.grid_line_dash = "4 3"
d.ygrid.minor_grid_line_color = "#A8A8A8"
d.ygrid.minor_grid_line_dash = "4 3"
d.xaxis.major_label_orientation = math.pi / 4
d.xaxis.major_label_text_font_style = "italic"
d.xaxis.major_label_text_font_size = "11.5px"
d.yaxis.major_label_text_font_size = "11.5px"
d.outline_line_color = "#222222"
BW = 0.75
d.segment(x0=pos, y0=d_q3, x1=pos, y1=d_high, line_color="#333333", line_width=1)
d.segment(x0=pos, y0=d_q1, x1=pos, y1=d_low, line_color="#333333", line_width=1)
d.vbar(x=pos, width=BW, bottom=d_q1, top=d_q3, fill_color="#A6A6A6", line_color="#333333", line_width=1)
d.segment(x0=[p_ - BW / 2 for p_ in pos], y0=d_med, x1=[p_ + BW / 2 for p_ in pos], y1=d_med,
          line_color="#333333", line_width=2)
d.scatter([d_genes.index(g) + 1 for g in d_out_genes], d_out_vals, size=3, color="black")

block_cd = row(column(c), column(d_strip), column(d))

layout = column(block_a, a_xlab, block_b, b_xlab, block_cd)
open("out.html", "w").write(file_html(layout, INLINE, title="RAD51 correlations"))
